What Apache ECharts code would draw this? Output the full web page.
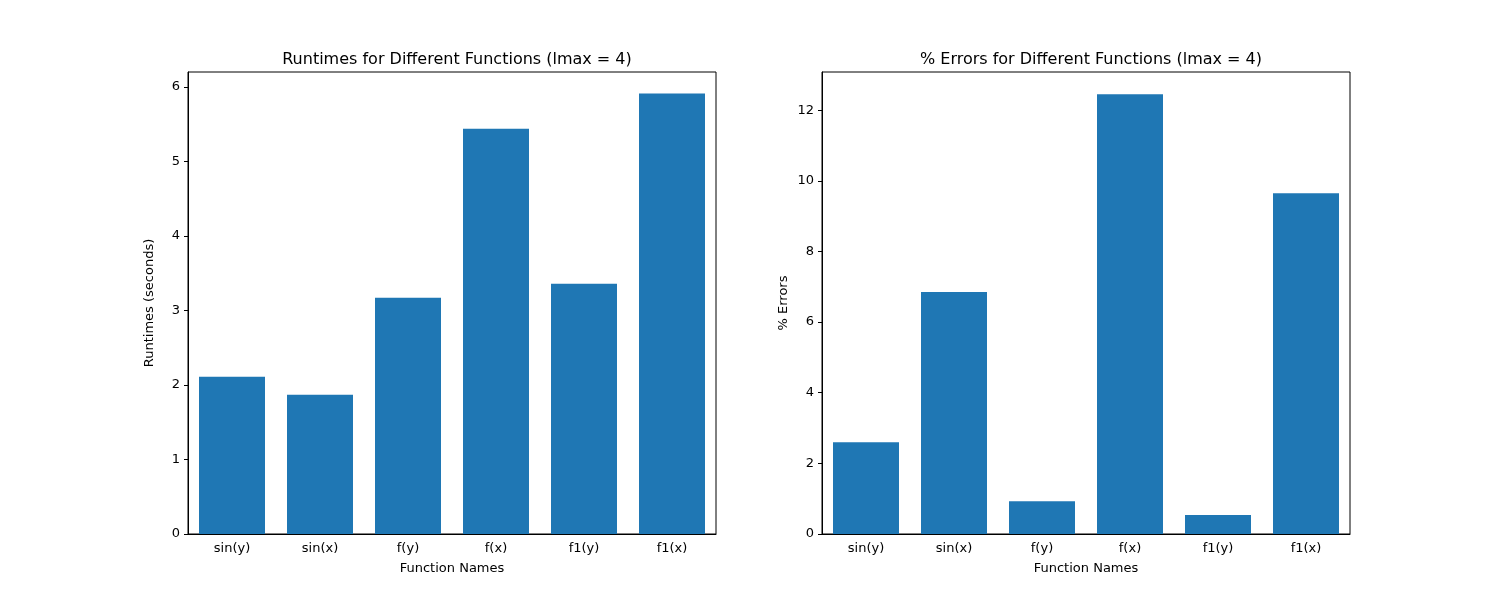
<!DOCTYPE html>
<html>
<head>
<meta charset="utf-8">
<script src="https://cdn.jsdelivr.net/npm/echarts@6/dist/echarts.min.js"></script>
<style>html,body{margin:0;padding:0;background:#fff}</style>
</head>
<body>
<div id="chart" style="width:1500px;height:600px"></div>
<script>
const categories = ["sin(y)", "sin(x)", "f(y)", "f(x)", "f1(y)", "f1(x)"];
const runtimes = [2.11, 1.87, 3.17, 5.44, 3.36, 5.91];
const errors = [2.60, 6.85, 0.93, 12.45, 0.54, 9.65];

const font = "DejaVu Sans";
const chart = echarts.init(document.getElementById("chart"));

function yAxis(idx, name, max, interval) {
  return {
    gridIndex: idx, type: "value", min: 0, max: max, interval: interval,
    name: name, nameLocation: "middle", nameGap: 32,
    nameTextStyle: { color: "#000", fontSize: 13, fontFamily: font },
    axisLine: { show: true, lineStyle: { color: "#000" } },
    axisTick: { show: true, length: 4, lineStyle: { color: "#000" } },
    axisLabel: { color: "#000", fontSize: 13, fontFamily: font, showMaxLabel: false },
    splitLine: { show: false }
  };
}
function xAxis(idx) {
  return {
    gridIndex: idx, type: "category", data: categories,
    name: "Function Names", nameLocation: "middle", nameGap: 28,
    nameTextStyle: { color: "#000", fontSize: 13, fontFamily: font },
    axisLine: { lineStyle: { color: "#000" } },
    axisTick: { alignWithLabel: true, length: 4, lineStyle: { color: "#000" } },
    axisLabel: { color: "#000", fontSize: 13, fontFamily: font }
  };
}

chart.setOption({
  animation: false,
  title: [
    { text: "Runtimes for Different Functions (lmax = 4)", left: 452, top: 47, textAlign: "center",
      textStyle: { fontSize: 16, fontWeight: "normal", color: "#000", fontFamily: font } },
    { text: "% Errors for Different Functions (lmax = 4)", left: 1086, top: 47, textAlign: "center",
      textStyle: { fontSize: 16, fontWeight: "normal", color: "#000", fontFamily: font } }
  ],
  grid: [
    { left: 188, width: 528, top: 72, bottom: 66, show: true, borderColor: "#000", borderWidth: 1 },
    { left: 822, width: 528, top: 72, bottom: 66, show: true, borderColor: "#000", borderWidth: 1 }
  ],
  xAxis: [xAxis(0), xAxis(1)],
  yAxis: [yAxis(0, "Runtimes (seconds)", 6.2, 1), yAxis(1, "% Errors", 13.08, 2)],
  series: [
    { type: "bar", xAxisIndex: 0, yAxisIndex: 0, data: runtimes, barWidth: 66, itemStyle: { color: "#1f77b4" } },
    { type: "bar", xAxisIndex: 1, yAxisIndex: 1, data: errors, barWidth: 66, itemStyle: { color: "#1f77b4" } }
  ]
});
</script>
</body>
</html>
